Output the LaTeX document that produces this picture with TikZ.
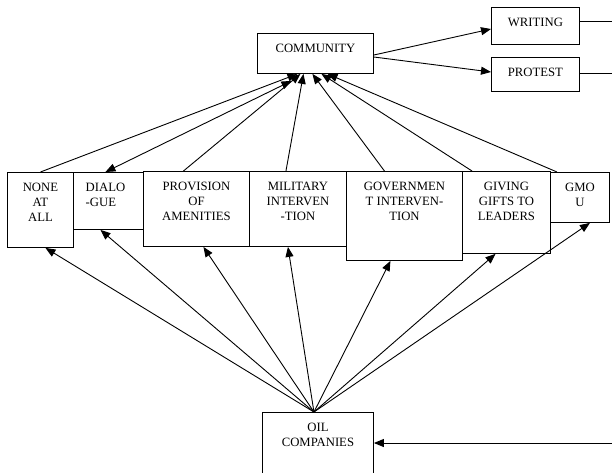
\documentclass[tikz,border=0pt]{standalone}
\usepackage{fontspec}
\setmainfont{Liberation Serif}
\usetikzlibrary{arrows.meta}
\begin{document}
\begin{tikzpicture}[x=1pt,y=-1pt,
  box/.style={draw,line width=0.9pt,inner sep=0pt,anchor=north west},
  txt/.style={inner sep=0pt,anchor=north,align=center,font=\fontsize{12.7}{15}\selectfont},
  link/.style={line width=0.9pt},
  arr/.style={line width=0.9pt,-{Triangle[length=10pt,width=8pt]}},
  darr/.style={line width=0.9pt,{Triangle[length=10pt,width=8pt]}-{Triangle[length=10pt,width=8pt]}}]
\useasboundingbox (0,0) rectangle (612,472);
\clip (0,0) rectangle (612,472);

% top row
\node[box,minimum width=116pt,minimum height=40pt] (comm) at (257,33) {};
\node[txt] (commT) at ([yshift=-11pt]comm.north) {COMMUNITY};
\node[box,minimum width=88pt,minimum height=37pt] (writ) at (491,7) {};
\node[txt] (writT) at ([yshift=-11pt]writ.north) {WRITING};
\node[box,minimum width=88pt,minimum height=34pt] (prot) at (491,57) {};
\node[txt] (protT) at ([yshift=-11pt]prot.north) {PROTEST};

% middle row of responses
\node[box,minimum width=66pt,minimum height=75pt] (none) at (7,172) {};
\node[txt] (noneT) at ([yshift=-11pt]none.north) {NONE\\AT\\ALL};
\node[box,minimum width=70pt,minimum height=57pt] (dial) at (73,172) {};
\node[txt,align=left] (dialT) at ([yshift=-11pt,xshift=-3pt]dial.north) {DIALO\\-GUE};
\node[box,minimum width=106pt,minimum height=75pt] (prov) at (143,171) {};
\node[txt] (provT) at ([yshift=-11pt]prov.north) {PROVISION\\OF\\AMENITIES};
\node[box,minimum width=97pt,minimum height=75pt] (mil) at (249,171) {};
\node[txt] (milT) at ([yshift=-11pt]mil.north) {MILITARY\\INTERVEN\\-TION};
\node[box,minimum width=116pt,minimum height=89pt] (gov) at (346,171) {};
\node[txt] (govT) at ([yshift=-11pt]gov.north) {GOVERNMEN\\T INTERVEN-\\TION};
\node[box,minimum width=88pt,minimum height=82pt] (gift) at (462,171) {};
\node[txt] (giftT) at ([yshift=-11pt]gift.north) {GIVING\\GIFTS TO\\LEADERS};
\node[box,minimum width=59pt,minimum height=50pt] (gmou) at (550,172) {};
\node[txt] (gmouT) at ([yshift=-11pt]gmou.north) {GMO\\U};

% bottom
\node[box,minimum width=111pt,minimum height=80pt] (oil) at (262,412) {};
\node[txt] (oilT) at ([yshift=-11pt]oil.north) {OIL\\COMPANIES};

\coordinate (wEnd) at (612,21);
\coordinate (pEnd) at (612,73);
\coordinate (oEnd) at (612,443);

% community to its actions
\draw[arr] ([yshift=-22pt]comm.north east) -- ([yshift=-22pt]writ.north west);
\draw[arr] ([yshift=-24pt]comm.north east) -- ([yshift=-15pt]prot.north west);
\draw[link] ([yshift=-14pt]writ.north east) -- (wEnd);
\draw[link] ([yshift=-16pt]prot.north east) -- (pEnd);

% responses to community
\draw[arr] (none.north) -- ([xshift=-18pt]comm.south);
\draw[darr] ([xshift=-3pt]dial.north) -- ([xshift=-24pt,yshift=-7pt]comm.south);
\draw[arr] ([xshift=-13pt]prov.north) -- ([xshift=-15pt]comm.south);
\draw[arr] ([xshift=-12pt]mil.north) -- ([xshift=-12pt]comm.south);
\draw[arr] ([xshift=-20pt]gov.north) -- ([xshift=-3pt]comm.south);
\draw[arr] ([xshift=10pt]gift.north west) -- ([xshift=6pt]comm.south);
\draw[arr] ([xshift=7pt]gmou.north west) -- ([xshift=12pt]comm.south);

% oil companies to responses
\draw[arr] ([xshift=-4pt]oil.north) -- ([xshift=5pt]none.south);
\draw[arr] ([xshift=-4pt]oil.north) -- ([xshift=-8pt]dial.south);
\draw[arr] ([xshift=-4pt]oil.north) -- ([xshift=7pt]prov.south);
\draw[arr] ([xshift=-4pt]oil.north) -- ([xshift=-10pt]mil.south);
\draw[arr] ([xshift=-4pt]oil.north) -- ([xshift=-14pt]gov.south);
\draw[arr] ([xshift=-4pt]oil.north) -- ([xshift=-11pt]gift.south);
\draw[arr] ([xshift=-4pt]oil.north) -- ([xshift=10pt]gmou.south);

\draw[arr] (oEnd) -- ([yshift=-31pt]oil.north east);
\end{tikzpicture}
\end{document}
